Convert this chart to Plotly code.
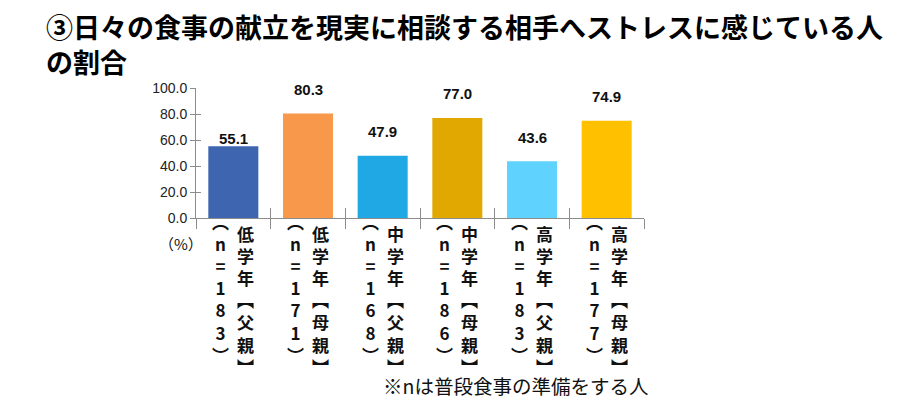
import plotly.graph_objects as go

# ---- data ----
groups = ["低学年【父親】", "低学年【母親】", "中学年【父親】", "中学年【母親】", "高学年【父親】", "高学年【母親】"]
sample_n = ["183", "171", "168", "186", "183", "177"]
values = [55.1, 80.3, 47.9, 77.0, 43.6, 74.9]
y_ticks = [0, 20, 40, 60, 80, 100]
title_text = "③日々の食事の献立を現実に相談する相手へストレスに感じている人<br>の割合"
note_text = "※nは普段食事の準備をする人"
unit_text = "（%）"

# ---- styles ----
colors = ["#3D65B0", "#F7984A", "#1FA8E4", "#E0A800", "#5FD3FD", "#FFC000"]
AXIS = "#8c8c8c"
JP = "Noto Sans CJK JP"
LAT = "Liberation Sans, Arial, sans-serif"

VERT = {"【": "︻", "】": "︼", "（": "︵", "）": "︶"}


def vertical(s):
    return "<br>".join(VERT.get(c, c) for c in s)


fig = go.Figure()
fig.add_trace(go.Bar(x=groups, y=values, marker=dict(color=colors, line_width=0),
                     width=0.67, hoverinfo="skip", showlegend=False))
# helper trace for overlay axes (cross ticks)
fig.add_trace(go.Scatter(x=[0, len(groups)], y=[0, 0], xaxis="x2", yaxis="y2",
                         mode="none", showlegend=False, hoverinfo="skip"))

annotations = []
# title
annotations.append(dict(x=0, y=1, xref="paper", yref="paper", text=title_text, showarrow=False,
                        xanchor="left", xshift=-152, yanchor="middle", yshift=44.5, align="left",
                        font=dict(family=JP, size=27, color="#000", weight="bold")))

label_lift = [8, 24, 24, 24, 24, 24]
for g, v, lift in zip(groups, values, label_lift):
    annotations.append(dict(x=g, y=v, xref="x", yref="y", text=f"{v:.1f}", showarrow=False,
                            yanchor="middle", yshift=lift,
                            font=dict(family=LAT, size=15, color="#111", weight="bold")))

for g, n in zip(groups, sample_n):
    annotations.append(dict(x=g, y=0, xref="x", yref="paper", text=vertical("（n=" + n + "）"),
                            showarrow=False, yanchor="top", yshift=11, xshift=-12.5, align="center",
                            font=dict(family=JP, size=17, color="#111", weight="bold")))
    annotations.append(dict(x=g, y=0, xref="x", yref="paper", text=vertical(g),
                            showarrow=False, yanchor="top", yshift=-1, xshift=12.5, align="center",
                            font=dict(family=JP, size=17, color="#111", weight="bold")))

annotations.append(dict(x=0, y=0, xref="paper", yref="paper", text=unit_text, showarrow=False,
                        xanchor="right", xshift=9, yanchor="middle", yshift=-25,
                        font=dict(family=JP, size=15, color="#111")))
annotations.append(dict(x=1, y=0, xref="paper", yref="paper", text=note_text, showarrow=False,
                        xanchor="right", xshift=6, yanchor="middle", yshift=-167,
                        font=dict(family=JP, size=19.5, color="#111")))

fig.update_layout(
    width=904, height=412,
    margin=dict(l=196, r=260, t=88, b=194),
    paper_bgcolor="white", plot_bgcolor="white",
    bargap=0.33,
    xaxis=dict(type="category", range=[-0.5, len(groups) - 0.5], showline=True, linecolor=AXIS,
               linewidth=1, ticks="outside", tickson="boundaries", ticklen=10, tickcolor=AXIS,
               showticklabels=False, showgrid=False, zeroline=False, fixedrange=True),
    xaxis2=dict(overlaying="x", anchor="y", range=[0, len(groups)],
                tickvals=list(range(len(groups) + 1)), ticks="inside", ticklen=10, tickcolor=AXIS,
                showticklabels=False, showline=False, showgrid=False, zeroline=False),
    yaxis=dict(range=[0, 100], tickvals=y_ticks, tickformat=".1f", ticks="outside", ticklen=5,
               tickcolor=AXIS, showline=True, linecolor=AXIS, linewidth=1, showgrid=False,
               zeroline=False, tickfont=dict(family=LAT, size=14, color="#222")),
    yaxis2=dict(overlaying="y", anchor="x", range=[0, 100], tickvals=y_ticks, ticks="inside",
                ticklen=5, tickcolor=AXIS, showticklabels=False, showline=False, showgrid=False,
                zeroline=False),
    annotations=annotations,
)

fig.write_html("out.html", config={"displayModeBar": False},
               post_script="document.body.style.margin='0';")
